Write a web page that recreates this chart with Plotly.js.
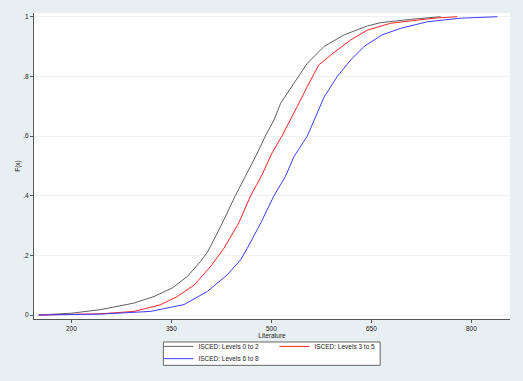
<!DOCTYPE html>
<html>
<head>
<meta charset="utf-8">
<script src="https://cdn.plot.ly/plotly-3.0.1.min.js"></script>
<style>
  html, body { margin: 0; padding: 0; background: #e8eff2; }
  #cdfPlot { width: 523px; height: 381px; }
</style>
</head>
<body>
<div id="cdfPlot"></div>
<script>
// literacy scores and cumulative share
const seriesNames = ['ISCED: Levels 0 to 2', 'ISCED: Levels 3 to 5', 'ISCED: Levels 6 to 8'];

const xLow = [151, 200, 244, 294, 324, 351, 374, 394, 404, 424, 446, 464, 479, 491, 504, 514, 534, 554, 579, 609, 644, 664, 709, 754];
const fLow = [0, 0.006, 0.018, 0.040, 0.062, 0.090, 0.129, 0.18, 0.21, 0.297, 0.40, 0.476, 0.543, 0.60, 0.654, 0.71, 0.777, 0.844, 0.90, 0.939, 0.969, 0.98, 0.991, 1];

const xMid = [151, 200, 244, 294, 334, 359, 384, 409, 429, 451, 469, 486, 501, 516, 529, 539, 554, 571, 594, 619, 644, 679, 744, 779];
const fMid = [0, 0.002, 0.004, 0.012, 0.0345, 0.062, 0.10, 0.163, 0.224, 0.308, 0.40, 0.47, 0.543, 0.60, 0.654, 0.70, 0.766, 0.838, 0.88, 0.922, 0.955, 0.978, 0.995, 1];

const xHigh = [151, 200, 244, 319, 369, 404, 434, 454, 464, 484, 504, 521, 534, 554, 564, 579, 599, 619, 639, 666, 694, 734, 784, 839];
const fHigh = [0, 0.001, 0.003, 0.012, 0.035, 0.079, 0.135, 0.185, 0.224, 0.308, 0.40, 0.464, 0.531, 0.60, 0.654, 0.73, 0.80, 0.855, 0.90, 0.939, 0.961, 0.983, 0.995, 1];

const xTickVals = [200, 350, 500, 650, 800];
const yTickVals = [0, 0.2, 0.4, 0.6, 0.8, 1];
const yTickText = ['0', '.2', '.4', '.6', '.8', '1'];

const fontFam = 'Liberation Sans, Arial, sans-serif';
const smallFont = { family: fontFam, size: 6.5, color: '#222' };

let data = [{
    x: xLow, y: fLow, name: seriesNames[0],
    mode: 'lines', line: { color: '#606060', width: 1 },
    legend: 'legend',
}, {
    x: xMid, y: fMid, name: seriesNames[1],
    mode: 'lines', line: { color: '#ff2424', width: 1 },
    legend: 'legend',
}, {
    x: xHigh, y: fHigh, name: seriesNames[2],
    mode: 'lines', line: { color: '#3c3cff', width: 1 },
    legend: 'legend2',
}];

let legendBase = {
    orientation: 'h',
    xanchor: 'left',
    yanchor: 'middle',
    bgcolor: 'rgba(0,0,0,0)',
    borderwidth: 0,
    itemwidth: 30,
    entrywidth: 71,
    entrywidthmode: 'pixels',
    font: smallFont,
};

let layout = {
    width: 523,
    height: 381,
    margin: { l: 33.5, r: 13, t: 13, b: 61.7, pad: 0, autoexpand: false },
    paper_bgcolor: '#e8eff2',
    plot_bgcolor: '#ffffff',
    font: smallFont,
    xaxis: {
        range: [144, 858],
        tickvals: xTickVals,
        ticks: 'outside', ticklen: 3, tickcolor: '#555',
        showline: true, linecolor: '#555', linewidth: 1,
        showgrid: false, zeroline: false,
        tickfont: smallFont,
        title: { text: 'Literature', standoff: 1, font: smallFont },
    },
    yaxis: {
        range: [-0.0134, 1.0124],
        tickvals: yTickVals,
        ticktext: yTickText,
        ticks: 'outside', ticklen: 3, tickcolor: '#555',
        showline: true, linecolor: '#555', linewidth: 1,
        showgrid: true, gridcolor: '#edf2f4', gridwidth: 1,
        zeroline: false,
        tickfont: smallFont,
        title: { text: 'F(x)', standoff: 2, font: smallFont },
    },
    legend: Object.assign({}, legendBase, { x: 0.2613, y: -0.0895 }),
    legend2: Object.assign({}, legendBase, { x: 0.2613, y: -0.1296 }),
    shapes: [{
        type: 'rect', xref: 'paper', yref: 'paper',
        x0: 0.2718, x1: 0.7272, y0: -0.1515, y1: -0.0751,
        line: { color: '#666', width: 1 },
        fillcolor: '#ffffff', layer: 'below',
    }],
    showlegend: true,
    hovermode: false,
};

let config = { staticPlot: true, displayModeBar: false };

Plotly.newPlot('cdfPlot', data, layout, config);
</script>
</body>
</html>
